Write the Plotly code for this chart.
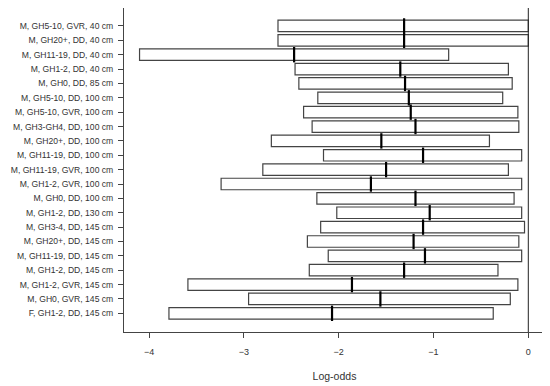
import plotly.graph_objects as go

labels = [
    "M, GH5-10, GVR, 40 cm", "M, GH20+, DD, 40 cm", "M, GH11-19, DD, 40 cm",
    "M, GH1-2, DD, 40 cm", "M, GH0, DD, 85 cm", "M, GH5-10, DD, 100 cm",
    "M, GH5-10, GVR, 100 cm", "M, GH3-GH4, DD, 100 cm", "M, GH20+, DD, 100 cm",
    "M, GH11-19, DD, 100 cm", "M, GH11-19, GVR, 100 cm", "M, GH1-2, GVR, 100 cm",
    "M, GH0, DD, 100 cm", "M, GH1-2, DD, 130 cm", "M, GH3-4, DD, 145 cm",
    "M, GH20+, DD, 145 cm", "M, GH11-19, DD, 145 cm", "M, GH1-2, DD, 145 cm",
    "M, GH1-2, GVR, 145 cm", "M, GH0, GVR, 145 cm", "F, GH1-2, DD, 145 cm",
]
lower = [-2.64, -2.64, -4.10, -2.46, -2.42, -2.22, -2.37, -2.28, -2.71, -2.16, -2.80,
         -3.24, -2.23, -2.02, -2.19, -2.33, -2.11, -2.31, -3.59, -2.95, -3.79]
median = [-1.31, -1.31, -2.47, -1.35, -1.30, -1.26, -1.24, -1.19, -1.55, -1.11, -1.50,
          -1.66, -1.19, -1.04, -1.11, -1.21, -1.09, -1.31, -1.86, -1.56, -2.07]
upper = [0.0, 0.0, -0.84, -0.21, -0.17, -0.27, -0.11, -0.10, -0.41, -0.07, -0.21,
         -0.07, -0.15, -0.07, -0.04, -0.10, -0.07, -0.32, -0.11, -0.19, -0.37]
x_ticks = [-4, -3, -2, -1, 0]

fig = go.Figure()
fig.add_trace(go.Bar(
    y=labels, x=[u - l for u, l in zip(upper, lower)], base=lower,
    orientation="h", width=0.8,
    marker=dict(color="white", line=dict(color="#444444", width=1.2)),
    hoverinfo="skip", showlegend=False,
))
fig.add_trace(go.Scatter(
    y=labels, x=median, mode="markers",
    marker=dict(symbol="line-ns", size=11, line=dict(color="black", width=2.2)),
    showlegend=False,
))
fig.add_vline(x=0, line=dict(color="#222222", width=1))

axis_common = dict(showline=True, mirror=True, linecolor="#444444", linewidth=1,
                   ticks="outside", ticklen=5, tickcolor="#444444", showgrid=False,
                   zeroline=False, automargin=False)
fig.update_layout(
    width=542, height=378,
    margin=dict(l=116, r=5, t=0, b=54),
    plot_bgcolor="white", paper_bgcolor="white",
    font=dict(family="Liberation Sans, Arial, sans-serif", size=9, color="#333333"),
    xaxis=dict(range=[-4.264, 0.176], tickvals=x_ticks,
               ticktext=["\u22124", "\u22123", "\u22122", "\u22121", "0"],
               ticklabelstandoff=6,
               title=dict(text="Log-odds", font=dict(size=10.5), standoff=16),
               **axis_common),
    yaxis=dict(type="category", categoryorder="array", categoryarray=labels,
               range=[21.3, -1.25], ticklabelstandoff=3,
               tickfont=dict(size=8.6), **axis_common),
    bargap=0.2,
)
fig.write_html("out.html")
